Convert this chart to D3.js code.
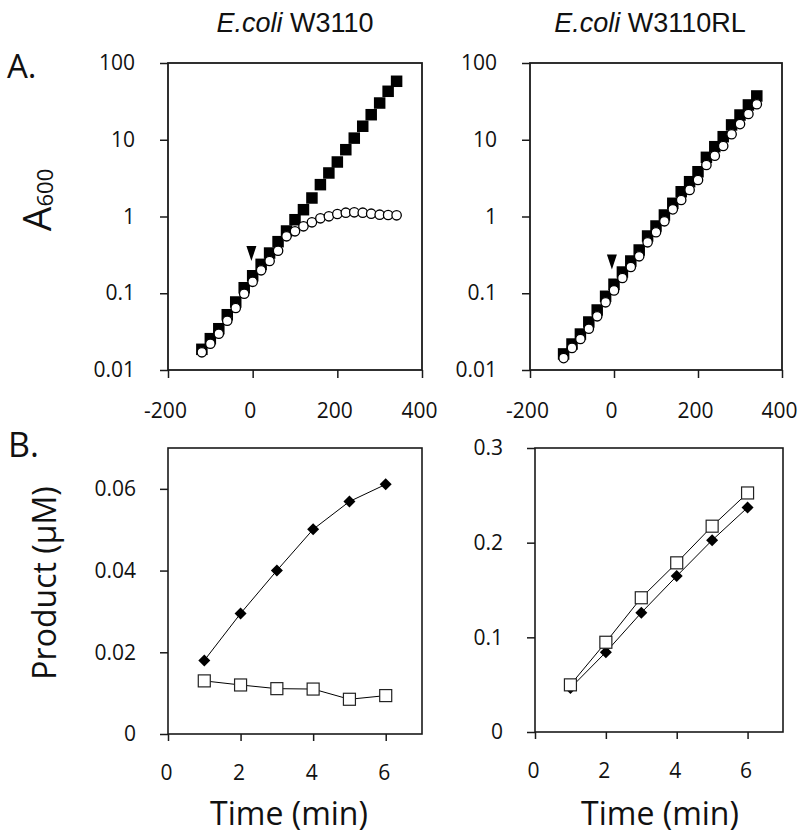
<!DOCTYPE html>
<html>
<head>
<meta charset="utf-8">
<script src="https://cdn.jsdelivr.net/npm/d3@7"></script>
<style>
  html, body { margin: 0; padding: 0; background: #fff; }
  svg { display: block; }
  .tick text { font-family: "Open Sans", "Noto Sans", sans-serif; fill: #111; }
</style>
</head>
<body>
<svg id="chart" width="800" height="840"></svg>
<script>
// ---------- data ----------
const growthTimes = [-120,-100,-80,-60,-40,-20,0,20,40,60,80,100,120,140,160,180,200,220,240,260,280,300,320,340];

// E.coli W3110 growth (A600)
const w3110Filled = [0.0186,0.0256,0.0345,0.0525,0.0769,0.118,0.169,0.238,0.334,0.470,0.647,0.908,1.226,1.742,2.60,3.69,5.13,7.42,10.5,15.0,21.2,30.1,42.8,57.8];
const w3110Open   = [0.0170,0.0220,0.0297,0.0439,0.0642,0.0987,0.141,0.199,0.263,0.358,0.552,0.641,0.745,0.840,0.947,1.006,1.078,1.121,1.134,1.121,1.088,1.056,1.046,1.036];

// E.coli W3110RL growth (A600)
const rlFilled = [0.0162,0.0218,0.0294,0.0422,0.0605,0.0913,0.131,0.189,0.263,0.366,0.557,0.752,1.046,1.486,2.10,2.84,3.83,5.90,8.12,10.96,15.6,21.0,28.4,37.2];
const rlOpen   = [0.0143,0.0194,0.0254,0.0345,0.0501,0.0762,0.109,0.158,0.220,0.303,0.461,0.623,0.866,1.24,1.64,2.22,2.99,4.69,6.20,8.29,11.8,16.0,21.7,29.0];

// addition arrows (time, A600 at arrow centre)
const w3110Arrow = [-3, 0.33];
const rlArrow = [-5, 0.255];

// product formation
const productTimes = [1,2,3,4,5,6];
const w3110Diamond = [0.0180,0.0295,0.0400,0.0501,0.0569,0.0611];
const w3110Square  = [0.0130,0.0120,0.0111,0.0110,0.0085,0.0094];
const rlDiamond = [0.0464,0.0843,0.126,0.1647,0.2026,0.2371];
const rlSquare  = [0.0498,0.0948,0.1418,0.1787,0.2174,0.2525];

// axes / ticks
const growthXTicks = [-200,0,200,400];
const growthXLabels = ["-200","0","200","400"];
const growthYTicks = [0.01,0.1,1,10,100];
const growthYLabels = ["0.01","0.1","1","10","100"];
const productXTicks = [0,2,4,6];
const productXLabels = ["0","2","4","6"];
const w3110ProductYTicks = [0,0.02,0.04,0.06];
const w3110ProductYLabels = ["0","0.02","0.04","0.06"];
const rlProductYTicks = [0,0.1,0.2,0.3];
const rlProductYLabels = ["0","0.1","0.2","0.3"];

const titles = ["W3110", "W3110RL"];

// ---------- drawing ----------
const svg = d3.select("#chart");
const AXIS_COLOR = "#1a1a1a";

function frame(g, x0, x1, y0, y1, sw) {
  g.append("rect").attr("x", x0).attr("y", y0)
    .attr("width", x1 - x0).attr("height", y1 - y0)
    .attr("fill", "none").attr("stroke", AXIS_COLOR).attr("stroke-width", sw);
}

function styleAxis(sel, fontSize) {
  sel.select(".domain").remove();
  sel.selectAll(".tick line").attr("stroke", AXIS_COLOR).attr("stroke-width", 1.5);
  sel.selectAll(".tick text").attr("font-size", fontSize + "px");
}

function growthPanel(x0, x1, y0, y1, filled, open, arrow) {
  const x = d3.scaleLinear().domain([-200, 400]).range([x0, x1]);
  const y = d3.scaleLog().domain([0.01, 100]).range([y1, y0]);
  const g = svg.append("g");

  g.append("g").attr("transform", `translate(0,${y1})`)
    .call(d3.axisBottom(x).tickValues(growthXTicks).tickSize(8).tickSizeOuter(0).tickPadding(25)
      .tickFormat((d, i) => growthXLabels[i]))
    .call(s => styleAxis(s, 21))
    .call(s => s.selectAll(".tick text").attr("dx", "-3"));
  g.append("g").attr("transform", `translate(${x0},0)`)
    .call(d3.axisLeft(y).tickValues(growthYTicks).tickSize(8).tickSizeOuter(0).tickPadding(25)
      .tickFormat((d, i) => growthYLabels[i]))
    .call(s => styleAxis(s, 21));
  frame(g, x0, x1, y0, y1, 1.8);

  const sq = 11.5;
  g.append("g").selectAll("rect").data(growthTimes).join("rect")
    .attr("x", (d) => x(d) - sq / 2)
    .attr("y", (d, i) => y(filled[i]) - sq / 2)
    .attr("width", sq).attr("height", sq)
    .attr("fill", "#000");
  g.append("g").selectAll("circle").data(growthTimes).join("circle")
    .attr("cx", (d) => x(d))
    .attr("cy", (d, i) => y(open[i]))
    .attr("r", 4.7)
    .attr("fill", "#fff").attr("stroke", "#000").attr("stroke-width", 1.3);

  // arrow marker (down-pointing triangle)
  const ax = x(arrow[0]), ay = y(arrow[1]);
  const p = d3.path();
  p.moveTo(ax - 5, ay - 7.5); p.lineTo(ax + 5, ay - 7.5); p.lineTo(ax, ay + 7.5); p.closePath();
  g.append("path").attr("d", p.toString()).attr("fill", "#000");
}

function productPanel(x0, x1, y0, y1, yMax, yTicks, yLabels, diamonds, squares) {
  const x = d3.scaleLinear().domain([0, 7]).range([x0, x1]);
  const y = d3.scaleLinear().domain([0, yMax]).range([y1, y0]);
  const g = svg.append("g");

  g.append("g").attr("transform", `translate(0,${y1})`)
    .call(d3.axisBottom(x).tickValues(productXTicks).tickSize(7).tickSizeOuter(0).tickPadding(24)
      .tickFormat((d, i) => productXLabels[i]))
    .call(s => styleAxis(s, 21))
    .call(s => s.selectAll(".tick text").attr("dx", "-2"));
  g.append("g").attr("transform", `translate(${x0},0)`)
    .call(d3.axisLeft(y).tickValues(yTicks).tickSize(8).tickSizeOuter(0).tickPadding(24)
      .tickFormat((d, i) => yLabels[i]))
    .call(s => styleAxis(s, 21));
  frame(g, x0, x1, y0, y1, 1.6);

  const line = d3.line().x(d => x(d[0])).y(d => y(d[1]));
  const dPts = productTimes.map((t, i) => [t, diamonds[i]]);
  const sPts = productTimes.map((t, i) => [t, squares[i]]);
  g.append("path").attr("d", line(dPts)).attr("fill", "none").attr("stroke", "#000").attr("stroke-width", 1);
  g.append("path").attr("d", line(sPts)).attr("fill", "none").attr("stroke", "#000").attr("stroke-width", 1);

  const diamond = d3.symbol().type(d3.symbolSquare).size(72);
  g.append("g").selectAll("path").data(dPts).join("path")
    .attr("d", diamond)
    .attr("transform", d => `translate(${x(d[0])},${y(d[1])}) rotate(45)`)
    .attr("fill", "#000");
  const s = 12;
  g.append("g").selectAll("rect").data(sPts).join("rect")
    .attr("x", d => x(d[0]) - s / 2).attr("y", d => y(d[1]) - s / 2)
    .attr("width", s).attr("height", s)
    .attr("fill", "#fff").attr("stroke", "#222").attr("stroke-width", 1.2);
}

growthPanel(168, 422, 63, 370, w3110Filled, w3110Open, w3110Arrow);
growthPanel(530, 782, 63, 370, rlFilled, rlOpen, rlArrow);
productPanel(168, 422, 448, 734, 0.07, w3110ProductYTicks, w3110ProductYLabels, w3110Diamond, w3110Square);
productPanel(535, 783, 448, 732, 0.3, rlProductYTicks, rlProductYLabels, rlDiamond, rlSquare);

// ---------- titles ----------
const titleFont = '"Liberation Sans", Arial, sans-serif';
const labelFont = '"Open Sans", "Noto Sans", sans-serif';

function strainTitle(cx, strain, size) {
  const t = svg.append("text").attr("x", cx).attr("y", 32)
    .attr("text-anchor", "middle").attr("font-family", titleFont)
    .attr("font-size", size + "px").attr("fill", "#111");
  t.append("tspan").attr("font-style", "italic").text("E.coli");
  t.append("tspan").text(" " + strain);
}
strainTitle(295, titles[0], 27);
strainTitle(650, titles[1], 27);

svg.append("text").attr("x", 7).attr("y", 78).attr("font-family", labelFont)
  .attr("font-size", "33px").attr("fill", "#111").text("A.");
svg.append("text").attr("x", 8).attr("y", 457).attr("font-family", labelFont)
  .attr("font-size", "34px").attr("fill", "#111").text("B.");

// A600 rotated
const a600 = svg.append("text").attr("transform", "translate(51,200) rotate(-90)")
  .attr("text-anchor", "middle").attr("font-family", labelFont).attr("fill", "#111");
a600.append("tspan").attr("font-size", "39px").text("A");
a600.append("tspan").attr("font-size", "22px").attr("dy", "2").text("600");

svg.append("text").attr("transform", "translate(56,583) rotate(-90)")
  .attr("text-anchor", "middle").attr("font-family", labelFont)
  .attr("font-size", "32px").attr("fill", "#111").text("Product (\u00b5M)");

svg.append("text").attr("x", 289).attr("y", 825).attr("text-anchor", "middle")
  .attr("font-family", labelFont).attr("font-size", "32px").attr("fill", "#111").text("Time (min)");
svg.append("text").attr("x", 660).attr("y", 825).attr("text-anchor", "middle")
  .attr("font-family", labelFont).attr("font-size", "32px").attr("fill", "#111").text("Time (min)");
</script>
</body>
</html>
